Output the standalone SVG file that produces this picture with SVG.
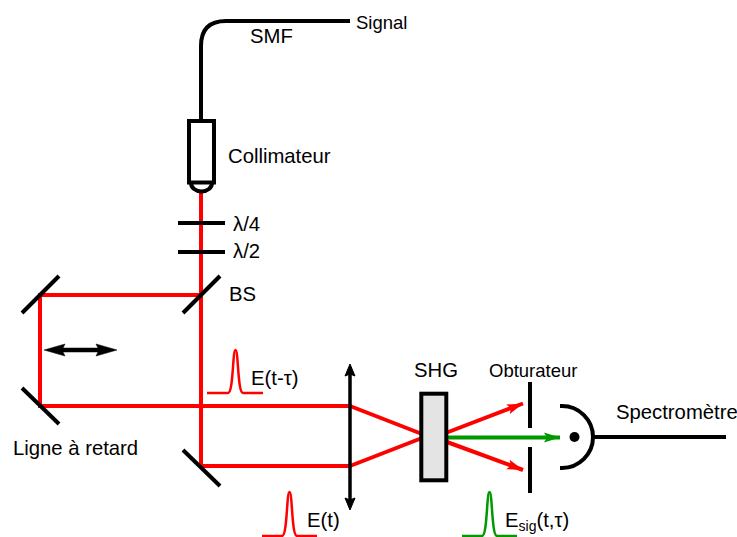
<svg xmlns="http://www.w3.org/2000/svg" width="737" height="537" viewBox="0 0 737 537">
<style>
text{font-family:"Liberation Sans",Arial,sans-serif;font-size:20.300px;fill:#000}
.s{font-size:18.500px}
.k{fill:none;stroke:#000;stroke-width:4}
.r{fill:none;stroke:#f00;stroke-width:4}
.p{fill:none;stroke:#f00;stroke-width:2.500}
.g{fill:none;stroke:#090;stroke-width:2.500}
</style>
<defs>
<marker id="ar" markerUnits="userSpaceOnUse" markerWidth="20" markerHeight="14" refX="16" refY="6" orient="auto"><path d="M0 1L16 6L0 11L3 6Z" fill="#f00"/></marker>
<marker id="ag" markerUnits="userSpaceOnUse" markerWidth="20" markerHeight="14" refX="16" refY="6" orient="auto"><path d="M0 1L16 6L0 11L3 6Z" fill="#090"/></marker>
</defs>
<g id="connectors">
<path class="r" d="M201 192V466H350"/>
<path class="r" d="M201 295H40V406H350"/>
<path class="r" d="M350 406L422 434"/>
<path class="r" d="M350 466L422 438"/>
<path class="r" d="M447 432.500L523 403.500" marker-end="url(#ar)"/>
<path class="r" d="M447 442L523 470" marker-end="url(#ar)"/>
<path d="M447 437.500H560" fill="none" stroke="#090" stroke-width="4" marker-end="url(#ag)"/>
<path class="k" d="M201 120V46Q201 21 226 21H350"/>
<path class="k" d="M593 437H726"/>
</g>
<g id="fiber-label"><text x="250" y="43">SMF</text><text class="s" x="356" y="29">Signal</text></g>
<g id="collimator">
<rect class="k" x="189" y="121" width="25" height="61.500"/>
<path class="k" d="M191 183A10.500 8.500 0 0 0 212 183"/>
<text x="228" y="163">Collimateur</text>
</g>
<g id="waveplate-4"><path class="k" d="M178 223H225"/><text x="233" y="231">λ/4</text></g>
<g id="waveplate-2"><path class="k" d="M178 252H225"/><text x="233" y="258">λ/2</text></g>
<g id="bs"><path class="k" d="M183 313L220 276"/><text x="229" y="301">BS</text></g>
<g id="mirror-1"><path class="k" d="M22 313L59 276"/></g>
<g id="mirror-2"><path class="k" d="M22 388L59 424"/></g>
<g id="mirror-3"><path class="k" d="M183 450L220 486"/></g>
<g id="delay-line">
<path d="M55 350H106" stroke="#000" stroke-width="4.500"/>
<path d="M44 350L65 344L62 350L65 356Z M117 350L96 344L99 350L96 356Z" fill="#000" stroke="#000" stroke-width="0.500"/>
<text x="13" y="455">Ligne à retard</text>
</g>
<g id="lens">
<path d="M350 372V500" stroke="#000" stroke-width="3.500"/>
<path d="M350 364L355 376L350 374L345 376Z M350 510L355 498L350 500L345 498Z" fill="#000" stroke="#000"/>
</g>
<g id="shg">
<rect x="421.300" y="393.700" width="25" height="86.600" fill="#e4e4e4" stroke="#000" stroke-width="4"/>
<text x="414" y="377">SHG</text>
</g>
<g id="shutter">
<path class="k" d="M530 382V428M530 447V493"/>
<text class="s" x="489" y="377">Obturateur</text>
</g>
<g id="spectrometer">
<path class="k" d="M560 406H562A31 31 0 0 1 562 468H560"/>
<circle cx="574.500" cy="437" r="5" fill="#000"/>
<text x="616" y="419">Spectromètre</text>
</g>
<g id="pulse-t-tau">
<path class="p" d="M207 393H228C233.500 393 232.500 350 235.500 350C238.500 350 237.500 393 243 393H263"/>
<text x="251" y="385">E(t-τ)</text>
</g>
<g id="pulse-t">
<path class="p" d="M262 536H282C287.500 536 286.500 492 289.500 492C292.500 492 291.500 536 297 536H317"/>
<text x="307" y="527">E(t)</text>
</g>
<g id="pulse-sig">
<path class="g" d="M462 536H482C487.500 536 486.500 492 489.500 492C492.500 492 491.500 536 497 536H517"/>
<text x="505" y="527">E<tspan font-size="14" dy="4">sig</tspan><tspan dy="-4">(t,τ)</tspan></text>
</g>
</svg>
